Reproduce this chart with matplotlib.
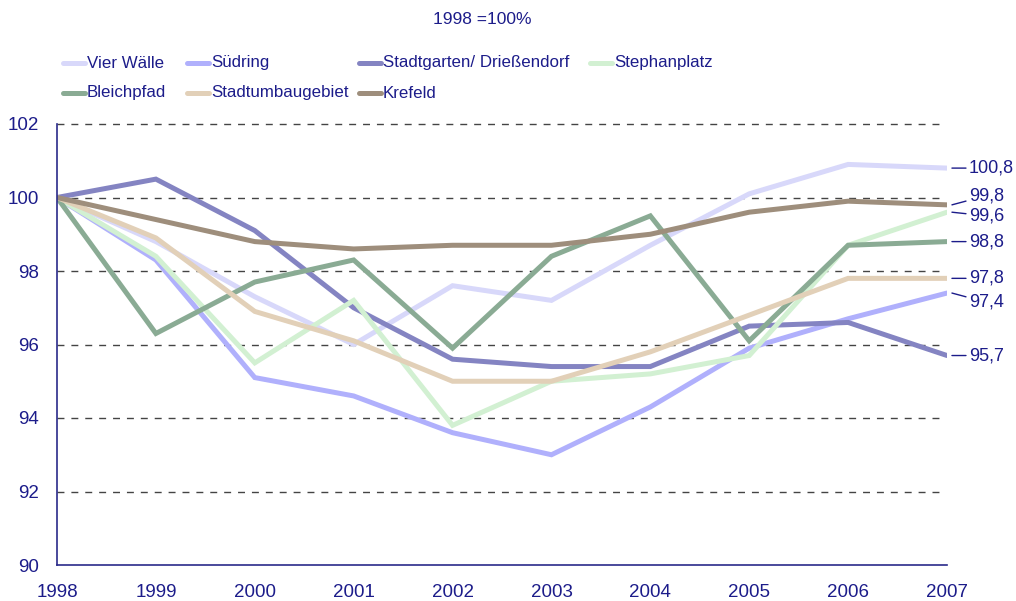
import matplotlib
matplotlib.use("Agg")
import matplotlib.pyplot as plt
from matplotlib.lines import Line2D
from matplotlib import font_manager

fams = [f.name for f in font_manager.fontManager.ttflist]
main_font = 'Liberation Sans Narrow' if 'Liberation Sans Narrow' in fams else 'Liberation Sans'
plt.rcParams['font.family'] = [main_font, 'DejaVu Sans']

years = [1998, 1999, 2000, 2001, 2002, 2003, 2004, 2005, 2006, 2007]
series_names = ["Vier Wälle", "Südring", "Stadtgarten/ Drießendorf", "Stephanplatz",
                "Bleichpfad", "Stadtumbaugebiet", "Krefeld"]
vier_waelle = [100, 98.8, 97.3, 96.0, 97.6, 97.2, 98.7, 100.1, 100.9, 100.8]
suedring = [100, 98.3, 95.1, 94.6, 93.6, 93.0, 94.3, 95.9, 96.7, 97.4]
stadtgarten = [100, 100.5, 99.1, 97.0, 95.6, 95.4, 95.4, 96.5, 96.6, 95.7]
stephanplatz = [100, 98.4, 95.5, 97.2, 93.8, 95.0, 95.2, 95.7, 98.7, 99.6]
bleichpfad = [100, 96.3, 97.7, 98.3, 95.9, 98.4, 99.5, 96.1, 98.7, 98.8]
stadtumbau = [100, 98.9, 96.9, 96.1, 95.0, 95.0, 95.8, 96.8, 97.8, 97.8]
krefeld = [100, 99.4, 98.8, 98.6, 98.7, 98.7, 99.0, 99.6, 99.9, 99.8]
end_labels = ["100,8", "97,4", "95,7", "99,6", "98,8", "97,8", "99,8"]
label_y = [100.8, 97.15, 95.7, 99.5, 98.8, 97.8, 100.05]

colors = ["#d8d8fa", "#b0b0fc", "#8484c2", "#d2f0d2", "#8aab94", "#e2d0b8", "#9e8e7c"]
data = [vier_waelle, suedring, stadtgarten, stephanplatz, bleichpfad, stadtumbau, krefeld]
text_color = "#1c1c8a"

W, H = 1016, 601
fig = plt.figure(figsize=(W/100, H/100), dpi=100)
ax = fig.add_axes([57/W, 1-565/H, (947-57)/W, (565-124)/H])

handles = []
for name, vals, c in zip(series_names, data, colors):
    h, = ax.plot(years, vals, color=c, lw=3.6, label=name, solid_capstyle='round', solid_joinstyle='miter')
    handles.append(h)

ax.set_xlim(1998, 2007)
ax.set_ylim(90, 102)
ax.set_yticks([90, 92, 94, 96, 98, 100, 102])
ax.set_xticks(years)
ax.tick_params(length=0, labelsize=13.5, colors=text_color)
ax.tick_params(axis='y', pad=13)
ax.tick_params(axis='x', pad=14)
for s in ['top', 'right']:
    ax.spines[s].set_visible(False)
for s in ['left', 'bottom']:
    ax.spines[s].set_color("#2a2a8a")
    ax.spines[s].set_linewidth(1.2)
for yv in [92, 94, 96, 98, 100, 102]:
    ax.plot([1998, 2006.95], [yv, yv], color="#444444", lw=1.0, ls=(0, (5, 5)), zorder=0.5, clip_on=False)

for lab, vals, ly in zip(end_labels, data, label_y):
    ax.annotate(lab, xy=(2007.05, vals[-1]), xytext=(2007.22, ly),
                textcoords='data', fontsize=13, color=text_color, va='center', ha='left',
                annotation_clip=False,
                arrowprops=dict(arrowstyle='-', color=text_color, lw=1.0, shrinkA=0, shrinkB=0))

# legend laid out in fixed columns like the original
col_x = [63, 187, 359, 590]
row_y = [63, 93]
slots = [(0, 0), (0, 1), (0, 2), (0, 3), (1, 0), (1, 1), (1, 2)]
for (r, c), name, col in zip(slots, series_names, colors):
    x0, y0 = col_x[c], row_y[r]
    fig.add_artist(Line2D([x0/W, (x0+22)/W], [1-y0/H, 1-y0/H], color=col, lw=3.6,
                          solid_capstyle='round', transform=fig.transFigure))
    fig.text((x0+24)/W, 1-y0/H, name, ha='left', va='center', fontsize=12.2, color=text_color)

fig.text(482/W, 1-20/H, "1998 =100%", ha='center', va='center', fontsize=12.5, color=text_color)

fig.savefig("out.png", dpi=100)
